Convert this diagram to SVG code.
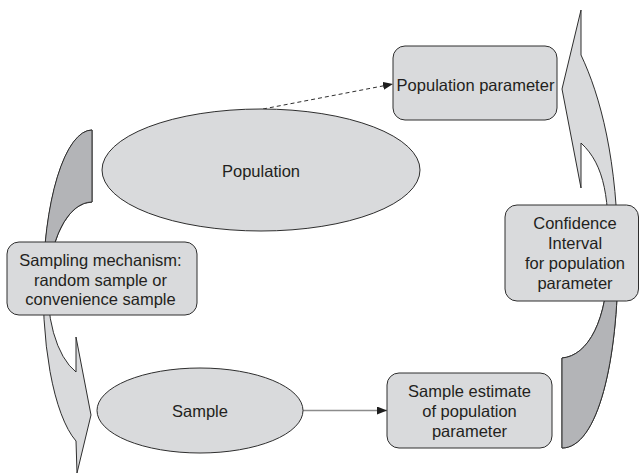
<svg xmlns="http://www.w3.org/2000/svg" width="639" height="475" viewBox="0 0 639 475">
<defs>
<style>
.lt{fill:#d9dadc;stroke:#2e2e2e;stroke-width:1}
.dk{fill:#b3b4b7;stroke:#2e2e2e;stroke-width:1}
.box{fill:#d9dadc;stroke:#2e2e2e;stroke-width:1}
.t{font-family:"Liberation Sans",Arial,sans-serif;font-size:16.5px;fill:#231f20;text-anchor:middle}
.cn{fill:none}
</style>
<marker id="ah" markerUnits="userSpaceOnUse" markerWidth="10" markerHeight="8" refX="10" refY="4" orient="auto">
<path d="M0,0 L10,4 L0,8 Z" fill="#1e1e1e"/>
</marker>
</defs>
<rect width="639" height="475" fill="#ffffff"/>

<g id="sampling-arrow">
<path class="lt" d="M92,130 A49,160 0 0 0 76,441 L77,473 L91,415 L76,337 L76,372 A44,88 0 0 1 92,202 Z"/>
<path class="dk" d="M92,130 A49,160 0 0 0 43,290 L48,290 A44,88 0 0 1 92,202 Z"/>
</g>

<g id="ci-arrow">
<path class="lt" d="M562,448 C598,448 618,360 618,260 C618,160 600,95 581,55 L581,10 L562,89 L581,188 L581,143 C605,165 610,200 608,260 C608,320 588,356 562,358 Z"/>
<path class="dk" d="M562,448 C598,448 618,360 618,260 L608,260 C608,320 588,356 562,358 Z"/>
</g>

<g id="connectors" class="cn">
<line x1="263" y1="109" x2="393" y2="84" stroke="#2e2e2e" stroke-width="1" stroke-dasharray="4,3" marker-end="url(#ah)"/>
<line x1="303" y1="410.5" x2="387" y2="410.5" stroke="#8c8c8c" stroke-width="1.3" marker-end="url(#ah)"/>
</g>

<g id="population">
<ellipse class="lt" cx="261" cy="170" rx="159" ry="61"/>
<text class="t" x="261" y="177">Population</text>
</g>

<g id="population-parameter">
<rect class="box" x="393" y="46" width="164" height="74" rx="12"/>
<text class="t" x="475.5" y="91">Population parameter</text>
</g>

<g id="sampling-mechanism">
<rect class="box" x="7" y="242" width="190" height="73" rx="12"/>
<text class="t" x="100.5" y="266">Sampling mechanism:</text>
<text class="t" x="100.5" y="286">random sample or</text>
<text class="t" x="100.5" y="305">convenience sample</text>
</g>

<g id="confidence-interval">
<rect class="box" x="505" y="205" width="133.5" height="96" rx="12"/>
<text class="t" x="575" y="229">Confidence</text>
<text class="t" x="575" y="249">Interval</text>
<text class="t" x="575" y="269">for population</text>
<text class="t" x="575" y="289">parameter</text>
</g>

<g id="sample">
<ellipse class="lt" cx="200" cy="410.5" rx="103" ry="42.5"/>
<text class="t" x="200" y="417">Sample</text>
</g>

<g id="sample-estimate">
<rect class="box" x="387" y="373" width="165" height="75" rx="12"/>
<text class="t" x="469.5" y="397">Sample estimate</text>
<text class="t" x="469.5" y="417">of population</text>
<text class="t" x="469.5" y="437">parameter</text>
</g>
</svg>
